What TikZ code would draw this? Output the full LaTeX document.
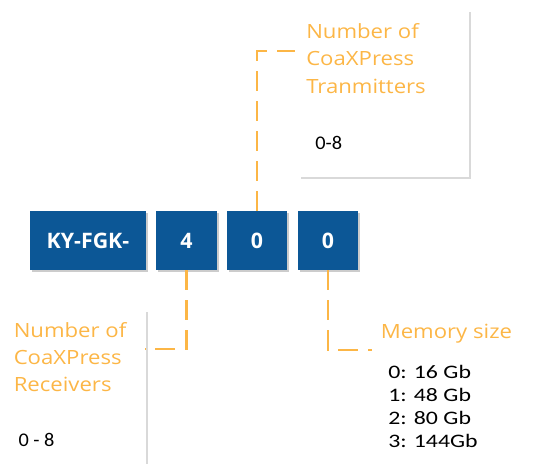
\documentclass[tikz,border=0pt]{standalone}
\usepackage{fontspec}
\setmainfont{Carlito}
\newfontfamily\capfont[FakeStretch=1.13]{Open Sans}
\newfontfamily\boxfont{Open Sans}
\newfontfamily\rangefont[FakeStretch=1.05]{Carlito}
\newfontfamily\listfont[FakeStretch=1.25]{Carlito}
\usetikzlibrary{shadows}

\definecolor{kyblue}{RGB}{12,87,150}
\definecolor{kyorange}{RGB}{252,182,70}
\definecolor{kygray}{RGB}{217,217,217}

\tikzset{
	digit/.style={fill=kyblue,text=white,font=\boxfont\fontsize{16}{20}\selectfont\bfseries,
		minimum height=44.25pt,inner sep=0pt,
		drop shadow={shadow xshift=1.2pt,shadow yshift=-1.2pt,fill=black!20,opacity=1}},
	lead/.style={kyorange,line width=1.75pt,dash pattern=on 15pt off 7.5pt},
	captext/.style={kyorange,anchor=north west,inner sep=0pt,align=left,
		font=\capfont\fontsize{14.7}{20.4}\selectfont},
	rangetext/.style={anchor=north west,inner sep=0pt,align=left,
		font=\rangefont\fontsize{14.5}{17.25}\selectfont},
	frameline/.style={kygray,line width=1.5pt}
}

\begin{document}
\begin{tikzpicture}[x=0.75pt,y=-0.75pt]
	\useasboundingbox (0,0) rectangle (536,464);
	
	%PART NUMBER BOXES
	\node[digit,minimum width=87pt]    (kyfgk) at (88,240.5)  {KY-FGK-};
	\node[digit,minimum width=45.75pt] (rx)    at (186.5,240.5) {4};
	\node[digit,minimum width=45pt]    (tx)    at (257,240.5) {0};
	\node[digit,minimum width=45pt]    (mem)   at (328,240.5) {0};
	
	%TRANSMITTERS
	\draw[frameline] (470,12)--(470,178)--(301,178);
	\node[captext] (txtitle) at (306,23.4) {Number of\\CoaXPress\\Tranmitters};
	\node[rangetext] (txrange) at (315,136) {0-8};
	\coordinate (txend) at (295,51);
	\draw[lead] (tx.north) |- (txend);
	
	%RECEIVERS
	\draw[frameline] (147,312)--(147,464);
	\node[captext] (rxtitle) at (13.5,322) {Number of\\CoaXPress\\Receivers};
	\node[rangetext] (rxrange) at (18.3,432.7) {0 - 8};
	\coordinate (rxend) at (145,349);
	\draw[lead] (rx.south) |- (rxend);
	
	%MEMORY
	\node[captext,font=\capfont\fontsize{14.7}{20}\selectfont] (memtitle) at (380.5,324) {Memory size};
	\node[rangetext,font=\listfont\fontsize{14.3}{17.25}\selectfont] (memrange) at (388,365) {0: 16 Gb\\1: 48 Gb\\2: 80 Gb\\3: 144Gb};
	\coordinate (memend) at (372,350);
	\draw[lead] (mem.south) |- (memend);
\end{tikzpicture}
\end{document}
